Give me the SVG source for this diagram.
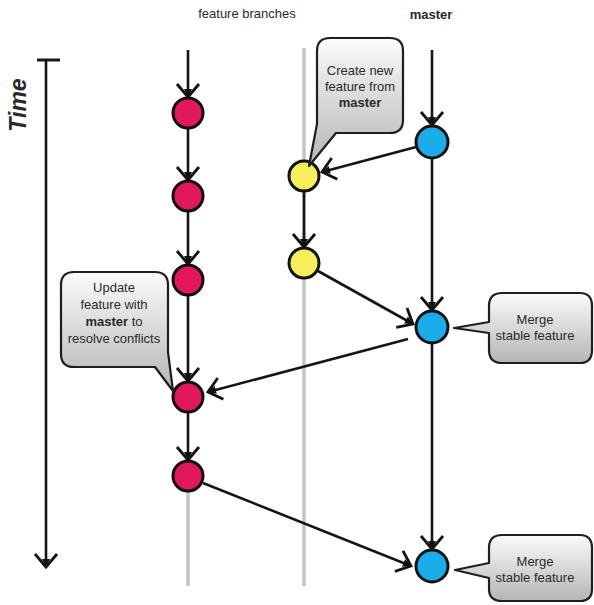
<svg xmlns="http://www.w3.org/2000/svg" width="594" height="605" viewBox="0 0 594 605">
<style>
text{font-family:"Liberation Sans",Arial,sans-serif;fill:#2a2a2a}
.t{font-size:13px;text-anchor:middle}
.b{font-weight:bold}
.ax{stroke:#1a1a1a;stroke-width:2.2;fill:none}
.gr{stroke:#c4c4c4;stroke-width:3.5;fill:none}
.c{stroke:#151515;stroke-width:2.6;fill:none;marker-end:url(#ah)}
.n{stroke:#111;stroke-width:3}
.pink{fill:#e3175c}
.yel{fill:#f4ef5a}
.blue{fill:#1badea}
.call{fill:url(#g);stroke:#1e1e1e;stroke-width:2.2;stroke-linejoin:round}
</style>
<defs>
<linearGradient id="g" x1="0" y1="0" x2="0" y2="1">
<stop offset="0" stop-color="#fbfbfb"/>
<stop offset="1" stop-color="#b5b5b5"/>
</linearGradient>
<marker id="ah" markerUnits="userSpaceOnUse" markerWidth="22" markerHeight="28" viewBox="0 0 22 28" refX="16" refY="14" orient="auto">
<path d="M3,3 L16,14 L3,25" fill="none" stroke="#111" stroke-width="2.8" stroke-linejoin="miter"/>
<path d="M8,10 L16,14 L8,18 Z" fill="#111"/>
</marker>
</defs>

<g id="time-axis">
<line x1="37" y1="60" x2="60" y2="60" stroke="#1a1a1a" stroke-width="3"/>
<line x1="46" y1="60" x2="46" y2="567" class="c"/>
<text transform="translate(26,105) rotate(-90)" text-anchor="middle" font-size="23" font-weight="bold" font-style="italic">Time</text>
</g>

<g id="labels">
<text class="t" x="247" y="18">feature branches</text>
<text class="t b" x="431" y="19" font-size="15">master</text>
</g>

<g id="guides">
<line class="gr" x1="304" y1="48" x2="304" y2="586"/>
<line class="gr" x1="188" y1="490" x2="188" y2="586"/>
</g>

<g id="connectors">
<line class="c" x1="188" y1="50" x2="188" y2="97"/>
<line class="c" x1="188" y1="129" x2="188" y2="180"/>
<line class="c" x1="188" y1="212" x2="188" y2="264"/>
<line class="c" x1="188" y1="296" x2="188" y2="381"/>
<line class="c" x1="188" y1="413" x2="188" y2="460"/>
<line class="c" x1="304" y1="192" x2="304" y2="247"/>
<line class="c" x1="432" y1="50" x2="432" y2="125"/>
<line class="c" x1="432" y1="159" x2="432" y2="310"/>
<line class="c" x1="432" y1="344" x2="432" y2="549"/>
<line class="c" x1="416" y1="147" x2="322" y2="172"/>
<line class="c" x1="318" y1="271" x2="413" y2="324"/>
<line class="c" x1="408" y1="339" x2="208" y2="392"/>
<line class="c" x1="203" y1="483" x2="411" y2="566"/>
</g>

<g id="pink1"><circle class="n pink" cx="188" cy="113" r="15"/></g>
<g id="pink2"><circle class="n pink" cx="188" cy="196" r="15"/></g>
<g id="pink3"><circle class="n pink" cx="188" cy="280" r="15"/></g>
<g id="pink4"><circle class="n pink" cx="188" cy="397" r="15"/></g>
<g id="pink5"><circle class="n pink" cx="188" cy="476" r="15"/></g>
<g id="yellow1"><circle class="n yel" cx="304" cy="176" r="15"/></g>
<g id="yellow2"><circle class="n yel" cx="304" cy="263" r="15"/></g>
<g id="blue1"><circle class="n blue" cx="432" cy="142" r="16"/></g>
<g id="blue2"><circle class="n blue" cx="432" cy="327" r="16"/></g>
<g id="blue3"><circle class="n blue" cx="432" cy="566" r="16"/></g>

<g id="callout-create">
<path class="call" d="M330,38 H390 Q403,38 403,51 V120 Q403,133 390,133 H336 L309,166 L317,124 V51 Q317,38 330,38 Z"/>
<text class="t" x="360" y="75">Create new</text>
<text class="t" x="360" y="91">feature from</text>
<text class="t b" x="360" y="107">master</text>
</g>

<g id="callout-update">
<path class="call" d="M74,272 H155 Q168,272 168,285 V352 L173,391 L155,367 H74 Q61,367 61,354 V285 Q61,272 74,272 Z"/>
<text class="t" x="114" y="292">Update</text>
<text class="t" x="114" y="309">feature with</text>
<text class="t" x="114" y="326"><tspan class="b">master</tspan> to</text>
<text class="t" x="114" y="343">resolve conflicts</text>
</g>

<g id="callout-merge1">
<path class="call" d="M502,293 H580 Q592,293 592,306 V350 Q592,363 580,363 H502 Q489,363 489,350 V333 L454,328 L489,322 V306 Q489,293 502,293 Z"/>
<text class="t" x="535" y="324">Merge</text>
<text class="t" x="535" y="340">stable feature</text>
</g>

<g id="callout-merge2">
<path class="call" d="M502,535 H580 Q592,535 592,548 V589 Q592,601 580,601 H502 Q489,601 489,589 V578 L455,570 L489,563 V548 Q489,535 502,535 Z"/>
<text class="t" x="535" y="566">Merge</text>
<text class="t" x="535" y="582">stable feature</text>
</g>
</svg>
